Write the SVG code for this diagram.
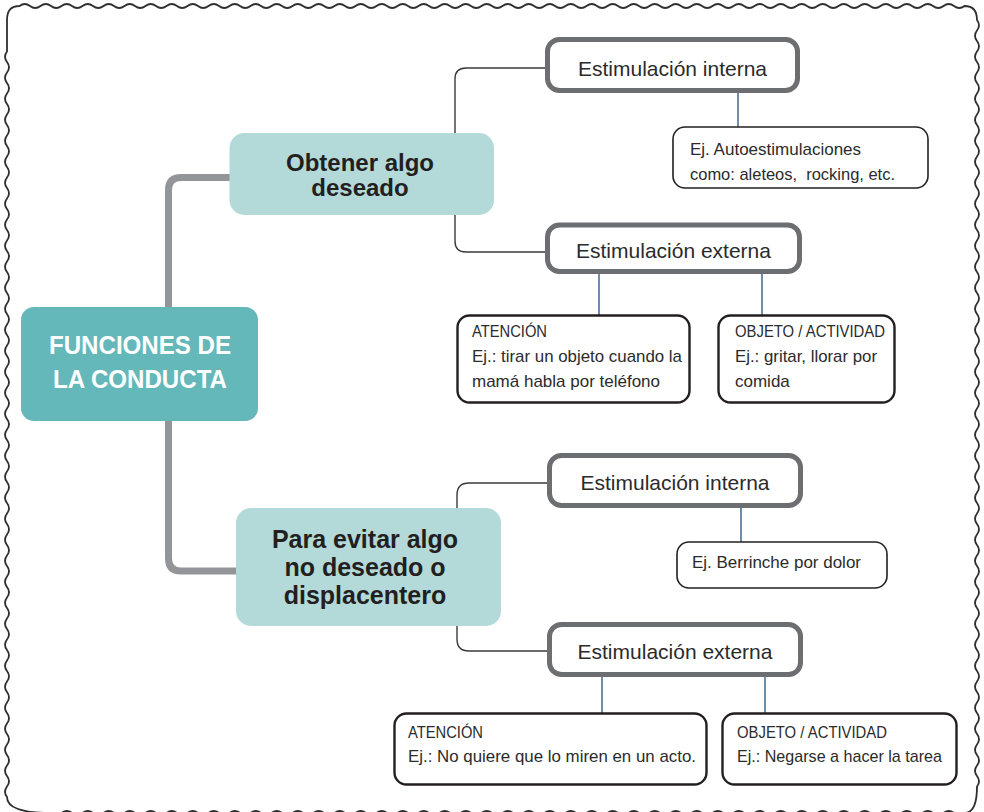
<svg xmlns="http://www.w3.org/2000/svg" width="984" height="812" viewBox="0 0 984 812">
<style>
.frame{fill:none;stroke:#2f2f2f;stroke-width:1.8}
.thick{fill:none;stroke:#939598;stroke-width:7}
.thin{fill:none;stroke:#3a3a3a;stroke-width:1.4}
.blue{fill:none;stroke:#2e5f8e;stroke-width:1.4}
.root{fill:#64b8ba}
.l1{fill:#b3d9d9}
.l2{fill:#fff;stroke:#6d6e71;stroke-width:5}
.ex{fill:#fff;stroke:#231f20;stroke-width:1.6}
.ex2{fill:#fff;stroke:#231f20;stroke-width:2.4}
text{font-family:"Liberation Sans",Arial,sans-serif}
.tr{fill:#fff;font-size:25px;font-weight:bold;text-anchor:middle}
.t1{fill:#231f20;font-size:24px;font-weight:bold;text-anchor:middle}
.t2{fill:#2b2b2b;font-size:21px;text-anchor:middle}
.t3{fill:#2b2b2b;font-size:17px}
</style>
<rect width="984" height="812" fill="#fff"/>
<path class="frame" d="M7,20 Q7,6 19.5,6 q5.25,-4 10.5,0 t10.5,0 10.5,0 10.5,0 10.5,0 10.5,0 10.5,0 10.5,0 10.5,0 10.5,0 10.5,0 10.5,0 10.5,0 10.5,0 10.5,0 10.5,0 10.5,0 10.5,0 10.5,0 10.5,0 10.5,0 10.5,0 10.5,0 10.5,0 10.5,0 10.5,0 10.5,0 10.5,0 10.5,0 10.5,0 10.5,0 10.5,0 10.5,0 10.5,0 10.5,0 10.5,0 10.5,0 10.5,0 10.5,0 10.5,0 10.5,0 10.5,0 10.5,0 10.5,0 10.5,0 10.5,0 10.5,0 10.5,0 10.5,0 10.5,0 10.5,0 10.5,0 10.5,0 10.5,0 10.5,0 10.5,0 10.5,0 10.5,0 10.5,0 10.5,0 10.5,0 10.5,0 10.5,0 10.5,0 10.5,0 10.5,0 10.5,0 10.5,0 10.5,0 10.5,0 10.5,0 10.5,0 10.5,0 10.5,0 10.5,0 10.5,0 10.5,0 10.5,0 10.5,0 10.5,0 10.5,0 10.5,0 10.5,0 10.5,0 10.5,0 10.5,0 10.5,0 10.5,0 10.5,0 10.5,0 Q977,6 977,20 q4,5.25 0,10.5 t0,10.5 0,10.5 0,10.5 0,10.5 0,10.5 0,10.5 0,10.5 0,10.5 0,10.5 0,10.5 0,10.5 0,10.5 0,10.5 0,10.5 0,10.5 0,10.5 0,10.5 0,10.5 0,10.5 0,10.5 0,10.5 0,10.5 0,10.5 0,10.5 0,10.5 0,10.5 0,10.5 0,10.5 0,10.5 0,10.5 0,10.5 0,10.5 0,10.5 0,10.5 0,10.5 0,10.5 0,10.5 0,10.5 0,10.5 0,10.5 0,10.5 0,10.5 0,10.5 0,10.5 0,10.5 0,10.5 0,10.5 0,10.5 0,10.5 0,10.5 0,10.5 0,10.5 0,10.5 0,10.5 0,10.5 0,10.5 0,10.5 0,10.5 0,10.5 0,10.5 0,10.5 0,10.5 0,10.5 0,10.5 0,10.5 0,10.5 0,10.5 0,10.5 0,10.5 0,10.5 0,10.5 0,10.5 Q977,813 964.5,813 q-5.25,4 -10.5,0 t-10.5,0 -10.5,0 -10.5,0 -10.5,0 -10.5,0 -10.5,0 -10.5,0 -10.5,0 -10.5,0 -10.5,0 -10.5,0 -10.5,0 -10.5,0 -10.5,0 -10.5,0 -10.5,0 -10.5,0 -10.5,0 -10.5,0 -10.5,0 -10.5,0 -10.5,0 -10.5,0 -10.5,0 -10.5,0 -10.5,0 -10.5,0 -10.5,0 -10.5,0 -10.5,0 -10.5,0 -10.5,0 -10.5,0 -10.5,0 -10.5,0 -10.5,0 -10.5,0 -10.5,0 -10.5,0 -10.5,0 -10.5,0 -10.5,0 -10.5,0 -10.5,0 -10.5,0 -10.5,0 -10.5,0 -10.5,0 -10.5,0 -10.5,0 -10.5,0 -10.5,0 -10.5,0 -10.5,0 -10.5,0 -10.5,0 -10.5,0 -10.5,0 -10.5,0 -10.5,0 -10.5,0 -10.5,0 -10.5,0 -10.5,0 -10.5,0 -10.5,0 -10.5,0 -10.5,0 -10.5,0 -10.5,0 -10.5,0 -10.5,0 -10.5,0 -10.5,0 -10.5,0 -10.5,0 -10.5,0 -10.5,0 -10.5,0 -10.5,0 -10.5,0 -10.5,0 -10.5,0 -10.5,0 -10.5,0 -10.5,0 Q7,813 7,797 q-4,-5.25 0,-10.5 t0,-10.5 0,-10.5 0,-10.5 0,-10.5 0,-10.5 0,-10.5 0,-10.5 0,-10.5 0,-10.5 0,-10.5 0,-10.5 0,-10.5 0,-10.5 0,-10.5 0,-10.5 0,-10.5 0,-10.5 0,-10.5 0,-10.5 0,-10.5 0,-10.5 0,-10.5 0,-10.5 0,-10.5 0,-10.5 0,-10.5 0,-10.5 0,-10.5 0,-10.5 0,-10.5 0,-10.5 0,-10.5 0,-10.5 0,-10.5 0,-10.5 0,-10.5 0,-10.5 0,-10.5 0,-10.5 0,-10.5 0,-10.5 0,-10.5 0,-10.5 0,-10.5 0,-10.5 0,-10.5 0,-10.5 0,-10.5 0,-10.5 0,-10.5 0,-10.5 0,-10.5 0,-10.5 0,-10.5 0,-10.5 0,-10.5 0,-10.5 0,-10.5 0,-10.5 0,-10.5 0,-10.5 0,-10.5 0,-10.5 0,-10.5 0,-10.5 0,-10.5 0,-10.5 0,-10.5 0,-10.5 0,-10.5 Z"/>
<g id="connectors">
<path class="thick" d="M232,177.5 H181 Q168.5,177.5 168.5,190 V558.5 Q168.5,571 181,571 H238"/>
<path class="thin" d="M547,68 H466 Q455,68 455,79 V241 Q455,252 466,252 H547"/>
<path class="thin" d="M549,483 H469 Q457,483 457,495 V639 Q457,651 469,651 H549"/>
<path class="blue" d="M738,92 V127 M599,272 V315 M762,272 V315 M741,507 V542 M602,676 V713 M765,676 V713"/>
</g>
<g id="root">
<rect class="root" x="21" y="307" width="237" height="114" rx="13"/>
<text class="tr" x="140" y="354" textLength="182" lengthAdjust="spacingAndGlyphs">FUNCIONES DE</text>
<text class="tr" x="140" y="388" textLength="174" lengthAdjust="spacingAndGlyphs">LA CONDUCTA</text>
</g>
<g id="obtener">
<rect class="l1" x="229.5" y="133" width="264.5" height="82" rx="15"/>
<text class="t1" x="360" y="171">Obtener algo</text>
<text class="t1" x="360" y="196">deseado</text>
</g>
<g id="evitar">
<rect class="l1" x="236" y="508" width="265" height="118" rx="15"/>
<text class="t1" x="365" y="548" style="font-size:25px">Para evitar algo</text>
<text class="t1" x="365" y="576" style="font-size:25px">no deseado o</text>
<text class="t1" x="365" y="604" style="font-size:25px">displacentero</text>
</g>
<g id="int1">
<rect class="l2" x="547.5" y="39.5" width="250" height="51" rx="12"/>
<text class="t2" x="672.5" y="76">Estimulación interna</text>
</g>
<g id="ex1">
<rect class="ex" x="673" y="127" width="255" height="61" rx="12"/>
<text class="t3" x="690" y="155">Ej. Autoestimulaciones</text>
<text class="t3" x="690" y="180" xml:space="preserve" textLength="205" lengthAdjust="spacingAndGlyphs">como: aleteos,  rocking, etc.</text>
</g>
<g id="ext1">
<rect class="l2" x="547.5" y="225" width="252" height="46.5" rx="12"/>
<text class="t2" x="673.5" y="258">Estimulación externa</text>
</g>
<g id="aten1">
<rect class="ex2" x="457.5" y="315.5" width="232" height="87" rx="12"/>
<text class="t3" x="472" y="337" textLength="75" lengthAdjust="spacingAndGlyphs">ATENCIÓN</text>
<text class="t3" x="472" y="362" textLength="210" lengthAdjust="spacingAndGlyphs">Ej.: tirar un objeto cuando la</text>
<text class="t3" x="472" y="387" textLength="188" lengthAdjust="spacingAndGlyphs">mamá habla por teléfono</text>
</g>
<g id="obj1">
<rect class="ex2" x="718.5" y="315.5" width="176" height="87" rx="12"/>
<text class="t3" x="735" y="337" textLength="150" lengthAdjust="spacingAndGlyphs">OBJETO / ACTIVIDAD</text>
<text class="t3" x="735" y="362" textLength="142" lengthAdjust="spacingAndGlyphs">Ej.: gritar, llorar por</text>
<text class="t3" x="735" y="387">comida</text>
</g>
<g id="int2">
<rect class="l2" x="549.5" y="455.5" width="251" height="50" rx="12"/>
<text class="t2" x="675" y="490">Estimulación interna</text>
</g>
<g id="ex2">
<rect class="ex" x="677" y="542" width="210" height="46" rx="12"/>
<text class="t3" x="692" y="568" textLength="169" lengthAdjust="spacingAndGlyphs">Ej. Berrinche por dolor</text>
</g>
<g id="ext2">
<rect class="l2" x="549.5" y="624.5" width="251" height="50" rx="12"/>
<text class="t2" x="675" y="659">Estimulación externa</text>
</g>
<g id="aten2">
<rect class="ex2" x="394.5" y="713.5" width="312" height="71" rx="12"/>
<text class="t3" x="408" y="738" textLength="75" lengthAdjust="spacingAndGlyphs">ATENCIÓN</text>
<text class="t3" x="408" y="762" textLength="288" lengthAdjust="spacingAndGlyphs">Ej.: No quiere que lo miren en un acto.</text>
</g>
<g id="obj2">
<rect class="ex2" x="722.5" y="713.5" width="234" height="71" rx="12"/>
<text class="t3" x="737" y="738" textLength="150" lengthAdjust="spacingAndGlyphs">OBJETO / ACTIVIDAD</text>
<text class="t3" x="737" y="762" textLength="205" lengthAdjust="spacingAndGlyphs">Ej.: Negarse a hacer la tarea</text>
</g>
</svg>
